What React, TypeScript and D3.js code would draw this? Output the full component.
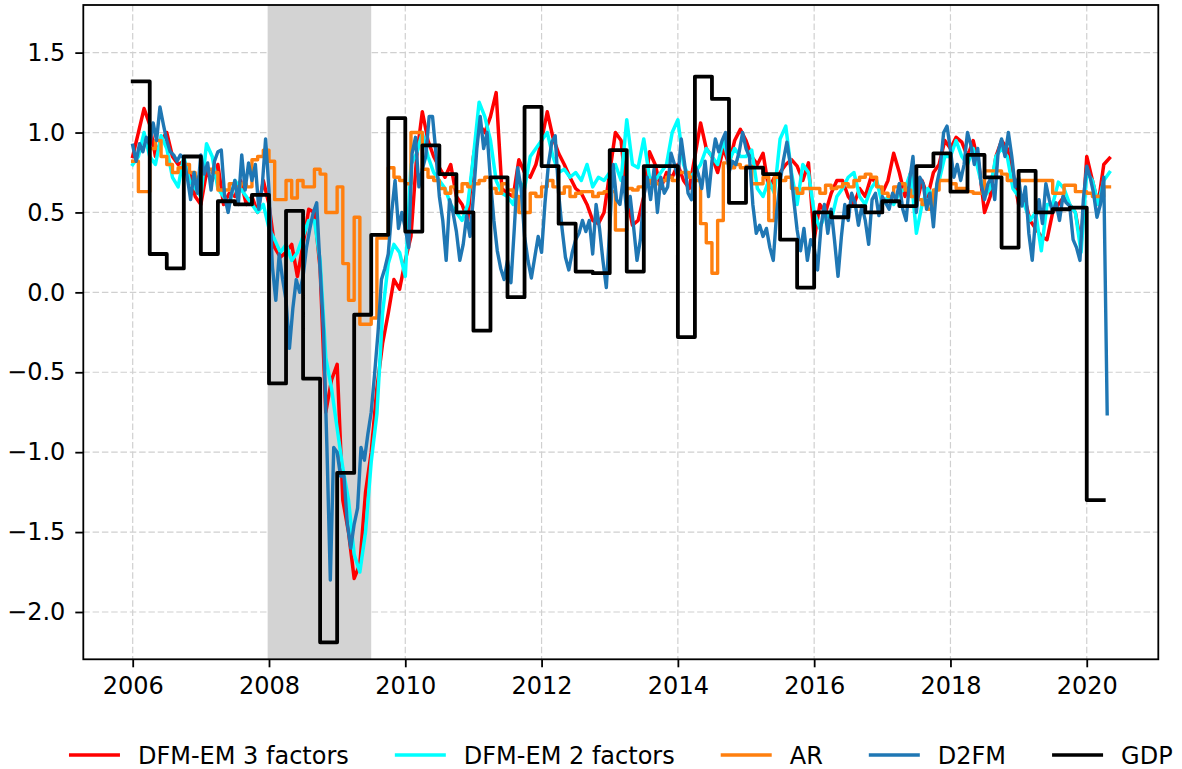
import React, { useEffect, useRef } from 'react'
import * as d3 from 'd3'

// D2FM nowcast, one value every 0.05 year starting 2006.0
const d2fmStart = 2006
const d2fmStep = 0.05
const d2fmValues = [
  0.92, 0.82, 0.93, 0.88, 0.97, 0.92, 1.06, 0.95, 1.16, 1.05,
  0.95, 0.88, 0.86, 0.82, 0.86, 0.84, 0.72, 0.58, 0.75, 0.62,
  0.86, 0.74, 0.81, 0.64, 0.82, 0.88, 0.89, 0.60, 0.50, 0.62,
  0.70, 0.55, 0.86, 0.64, 0.81, 0.70, 0.80, 0.52, 0.66, 0.96,
  0.64, 0.16, -0.05, 0.24, 0.08, -0.05, -0.35, -0.10, 0.08, 0.00,
  0.10, 0.28, 0.40, 0.50, 0.56, 0.15, -0.24, -0.97, -1.80, -0.97,
  -1.00, -1.15, -1.15, -1.45, -1.60, -1.45, -1.35, -0.97, -1.05, -0.89,
  -0.75, -0.51, -0.25, 0.08, 0.15, 0.24, 0.50, 0.70, 0.40, 0.50,
  0.40, 0.28, 0.87, 0.97, 0.66, 0.77, 0.85, 1.10, 1.10, 0.87,
  0.60, 0.45, 0.20, 0.58, 0.50, 0.38, 0.20, 0.30, 0.48, 0.35,
  0.60, 0.90, 1.10, 0.90, 1.00, 0.70, 0.45, 0.26, 0.15, 0.08,
  0.20, 0.06, 0.40, 0.78, 0.65, 0.35, 0.20, 0.09, 0.22, 0.35,
  0.25, 0.56, 0.80, 0.94, 0.98, 0.62, 0.40, 0.22, 0.14, 0.25,
  0.33, 0.37, 0.45, 0.38, 0.45, 0.24, 0.55, 0.40, 0.20, 0.03,
  0.40, 0.80, 0.58, 0.55, 0.72, 0.50, 0.60, 0.41, 0.20, 0.33,
  0.60, 0.72, 0.58, 0.77, 0.50, 0.72, 0.62, 0.66, 0.87, 0.80,
  0.72, 0.96, 0.80, 0.62, 0.58, 0.80, 0.74, 0.65, 0.82, 0.60,
  0.82, 0.96, 0.88, 0.95, 1.00, 0.75, 0.82, 0.80, 0.88, 1.00,
  0.90, 0.85, 0.55, 0.37, 0.42, 0.35, 0.40, 0.28, 0.20, 0.50,
  0.69, 0.83, 0.94, 0.80, 0.58, 0.39, 0.26, 0.40, 0.20, 0.33,
  0.28, 0.14, 0.41, 0.55, 0.37, 0.52, 0.32, 0.10, 0.35, 0.55,
  0.45, 0.62, 0.56, 0.42, 0.54, 0.45, 0.30, 0.58, 0.62, 0.48,
  0.60, 0.56, 0.52, 0.62, 0.58, 0.68, 0.52, 0.45, 0.70, 0.85,
  0.50, 0.72, 0.68, 0.52, 0.62, 0.41, 0.68, 0.78, 1.00, 1.04,
  0.89, 0.72, 0.80, 0.70, 0.80, 1.00, 0.92, 0.80, 0.90, 0.68,
  0.58, 0.68, 0.72, 0.58, 0.88, 0.96, 0.85, 1.00, 0.85, 0.66,
  0.72, 0.54, 0.66, 0.37, 0.20, 0.47, 0.58, 0.43, 0.68, 0.58,
  0.50, 0.56, 0.45, 0.60, 0.56, 0.54, 0.33, 0.28, 0.20, 0.58,
  0.79, 0.72, 0.62, 0.47, 0.55, 0.72, -0.76
]

// monthly series, starting January 2006
const monthlyStart = 2006
const dfm3Values = [
  0.85, 1.00, 1.15, 1.05, 0.85, 0.95, 1.00, 0.85, 0.80, 0.82, 0.75, 0.60,
  0.55, 0.75, 0.70, 0.80, 0.55, 0.62, 0.60, 0.70, 0.55, 0.60, 0.50, 0.70,
  0.55, 0.28, 0.22, 0.25, 0.30, 0.10, 0.30, 0.52, 0.50, 0.15, -0.75, -0.55,
  -0.45, -1.30, -1.50, -1.79, -1.70, -1.25, -1.00, -0.60, -0.32, -0.13, 0.08, 0.02,
  0.20, 0.35, 0.85, 1.13, 0.95, 0.85, 0.78, 0.72, 0.80, 0.60, 0.55, 0.45,
  0.85, 1.05, 1.00, 1.10, 1.25, 0.65, 0.62, 0.60, 0.83, 0.75, 0.72, 0.80,
  0.95, 1.13, 0.97, 0.87, 0.80, 0.72, 0.65, 0.62, 0.55, 0.45, 0.43, 0.50,
  0.75, 1.00, 0.95, 0.60, 0.42, 0.45, 0.60, 0.88, 0.80, 0.65, 0.75, 0.72,
  0.80, 0.70, 0.65, 0.85, 1.06, 0.90, 0.85, 0.75, 0.90, 0.80, 0.95, 1.02,
  0.95, 0.85, 0.80, 0.87, 0.65, 0.72, 0.75, 0.80, 0.83, 0.79, 0.70, 0.81,
  0.33, 0.55, 0.50, 0.62, 0.70, 0.70, 0.60, 0.55, 0.65, 0.60, 0.72, 0.68,
  0.62, 0.70, 0.87, 0.75, 0.60, 0.75, 0.55, 0.70, 0.60, 0.75, 0.80, 0.95,
  0.90, 0.97, 0.94, 0.85, 0.95, 0.80, 0.50, 0.60, 0.85, 0.95, 0.90, 0.75,
  0.55, 0.60, 0.45, 0.40, 0.35, 0.33, 0.50, 0.55, 0.60, 0.55, 0.50, 0.30,
  0.85, 0.70, 0.55, 0.80, 0.84
]
const dfm2Values = [
  0.80, 0.85, 1.00, 0.85, 0.80, 0.98, 0.90, 0.72, 0.66, 0.85, 0.70, 0.65,
  0.60, 0.93, 0.85, 0.65, 0.60, 0.55, 0.70, 0.65, 0.60, 0.55, 0.50, 0.55,
  0.40, 0.33, 0.25, 0.30, 0.20, 0.25, 0.35, 0.45, 0.45, 0.20, -0.41, -0.60,
  -0.85, -1.10, -1.30, -1.64, -1.75, -1.50, -1.06, -0.76, -0.13, 0.18, 0.30, 0.25,
  0.10, 0.80, 0.87, 1.00, 0.85, 0.75, 0.70, 0.65, 0.55, 0.50, 0.45, 0.55,
  0.85, 1.19, 1.10, 0.95, 0.70, 0.62, 0.60, 0.55, 0.70, 0.65, 0.85, 0.90,
  0.95, 1.00, 0.85, 0.75, 0.77, 0.72, 0.75, 0.70, 0.80, 0.66, 0.72, 0.70,
  0.75, 0.80, 0.70, 1.08, 0.80, 0.78, 0.96, 0.72, 0.70, 0.75, 0.80, 1.00,
  1.08, 0.80, 0.72, 0.75, 0.80, 0.90, 0.85, 0.80, 0.95, 0.82, 0.90, 0.85,
  0.85, 0.89, 0.65, 0.60, 0.70, 0.62, 0.96, 1.04, 0.75, 0.55, 0.80, 0.75,
  0.50, 0.40, 0.50, 0.45, 0.60, 0.65, 0.72, 0.75, 0.60, 0.55, 0.65, 0.70,
  0.55, 0.60, 0.55, 0.62, 0.65, 0.75, 0.37, 0.55, 0.65, 0.60, 0.70, 0.85,
  0.85, 0.95, 0.85, 0.80, 0.90, 0.75, 0.60, 0.65, 0.85, 0.90, 0.85, 0.65,
  0.60, 0.55, 0.45, 0.50, 0.26, 0.55, 0.55, 0.69, 0.65, 0.55, 0.50, 0.25,
  0.75, 0.70, 0.55, 0.70, 0.75
]
const arValues = [
  0.82, 0.63, 0.63, 0.90, 0.95, 0.85, 0.80, 0.75, 0.78, 0.80, 0.75, 0.72,
  0.77, 0.77, 0.75, 0.64, 0.64, 0.68, 0.66, 0.68, 0.66, 0.83, 0.85, 0.89,
  0.82, 0.58, 0.58, 0.70, 0.59, 0.70, 0.66, 0.66, 0.77, 0.74, 0.50, 0.50,
  0.66, 0.18, -0.05, 0.47, -0.20, -0.20, -0.16, 0.34, 0.34, 0.78, 0.72, 0.70,
  0.68, 1.00, 1.00, 0.77, 0.72, 0.70, 0.65, 0.62, 0.66, 0.63, 0.68, 0.66,
  0.68, 0.70, 0.72, 0.65, 0.62, 0.68, 0.64, 0.60, 0.50, 0.50, 0.62, 0.60,
  0.66, 0.70, 0.66, 0.62, 0.66, 0.60, 0.62, 0.63, 0.63, 0.60, 0.62, 0.63,
  0.63, 0.39, 0.39, 0.65, 0.64, 0.66, 0.68, 0.70, 0.68, 0.70, 0.72, 0.70,
  0.75, 0.75, 0.72, 0.70, 0.43, 0.31, 0.12, 0.45, 0.81, 0.78, 0.80, 0.78,
  0.79, 0.68, 0.68, 0.72, 0.45, 0.72, 0.70, 0.72, 0.65, 0.62, 0.65, 0.65,
  0.65, 0.62, 0.67, 0.65, 0.66, 0.68, 0.66, 0.70, 0.72, 0.74, 0.72, 0.66,
  0.62, 0.60, 0.66, 0.68, 0.64, 0.60, 0.58, 0.55, 0.52, 0.64, 0.70, 0.70,
  0.68, 0.65, 0.65, 0.63, 0.62, 0.62, 0.76, 0.76, 0.76, 0.74, 0.70, 0.70,
  0.70, 0.70, 0.70, 0.70, 0.70, 0.70, 0.62, 0.62, 0.67, 0.67, 0.63, 0.63,
  0.62, 0.60, 0.60, 0.66, 0.66
]

// quarterly GDP growth, 2006Q1 to 2020Q1
const gdpStart = 2006
const gdpValues = [
  1.32, 0.24, 0.15, 0.85,
  0.24, 0.57, 0.55, 0.61,
  -0.57, 0.51, -0.54, -2.19,
  -1.13, -0.14, 0.36, 1.09,
  0.38, 0.92, 0.74, 0.50,
  -0.24, 0.72, -0.03, 1.16,
  0.79, 0.43, 0.13, 0.12,
  0.89, 0.13, 0.79, 0.79,
  -0.28, 1.35, 1.21, 0.56,
  0.78, 0.74, 0.33, 0.03,
  0.50, 0.47, 0.54, 0.50,
  0.57, 0.54, 0.79, 0.87,
  0.63, 0.86, 0.72, 0.28,
  0.76, 0.50, 0.52, 0.53,
  -1.30
]

const recession = [2007.98, 2009.5]
const xTicks = [2006, 2008, 2010, 2012, 2014, 2016, 2018, 2020]
const yTicks = [-2.0, -1.5, -1.0, -0.5, 0.0, 0.5, 1.0, 1.5]
const seriesNames = ['DFM-EM 3 factors', 'DFM-EM 2 factors', 'AR', 'D2FM', 'GDP']
const seriesColors = ['#ff0000', '#00ffff', '#ff7f0e', '#1f77b4', '#000000']

type Pt = [number, number]

const App: React.FC = () => {
  const svgRef = useRef<SVGSVGElement>(null)

  useEffect(() => {
    if (!svgRef.current) return
    document.body.style.margin = '0'
    const svg = d3.select(svgRef.current)
    svg.selectAll('*').remove()

    const W = 1182
    const H = 769
    const left = 83.3, right = 1158.3, top = 5, bottom = 659.3
    const font = 'DejaVu Sans, sans-serif'
    const fs = 24

    const x = d3.scaleLinear().domain([2005.275, 2021.05]).range([left, right])
    const y = d3.scaleLinear().domain([-2.296, 1.798]).range([bottom, top])

    svg.attr('width', W).attr('height', H)
    svg.append('rect').attr('width', W).attr('height', H).attr('fill', '#fff')

    svg.append('defs').append('clipPath').attr('id', 'plot-clip')
      .append('rect')
      .attr('x', left).attr('y', top)
      .attr('width', right - left).attr('height', bottom - top)

    // grid
    const grid = svg.append('g')
    grid.selectAll('.gx').data(xTicks).enter().append('line')
      .attr('x1', d => x(d)).attr('x2', d => x(d))
      .attr('y1', top).attr('y2', bottom)
    grid.selectAll('.gy').data(yTicks).enter().append('line')
      .attr('x1', left).attr('x2', right)
      .attr('y1', d => y(d)).attr('y2', d => y(d))
    grid.selectAll('line')
      .attr('stroke', '#d0d0d0')
      .attr('stroke-width', 1.2)
      .attr('stroke-dasharray', '6.5,2.8')

    // recession shading
    svg.append('rect')
      .attr('x', x(recession[0]))
      .attr('width', x(recession[1]) - x(recession[0]))
      .attr('y', top).attr('height', bottom - top)
      .attr('fill', '#d3d3d3')

    const plot = svg.append('g').attr('clip-path', 'url(#plot-clip)')

    const lineLin = d3.line<Pt>().x(d => x(d[0])).y(d => y(d[1]))
    const lineStep = d3.line<Pt>().x(d => x(d[0])).y(d => y(d[1])).curve(d3.curveStepAfter)

    const monthly = (vals: number[]): Pt[] => vals.map((v, i) => [monthlyStart + i / 12, v])
    const d2fm: Pt[] = d2fmValues.map((v, i) => [d2fmStart + i * d2fmStep, v])
    const gdp: Pt[] = gdpValues.map((v, i) => [gdpStart + i / 4, v])
    // last quarter is held until its end
    gdp.push([gdpStart + gdpValues.length / 4, gdpValues[gdpValues.length - 1]])

    const draw = (pts: Pt[], gen: d3.Line<Pt>, color: string, w: number) => {
      plot.append('path')
        .attr('d', gen(pts))
        .attr('fill', 'none')
        .attr('stroke', color)
        .attr('stroke-width', w)
        .attr('stroke-linejoin', 'round')
        .attr('stroke-linecap', 'square')
    }

    draw(monthly(dfm3Values), lineLin, seriesColors[0], 3.5)
    draw(monthly(dfm2Values), lineLin, seriesColors[1], 3.5)
    draw(monthly(arValues), lineStep, seriesColors[2], 3.4)
    draw(d2fm, lineLin, seriesColors[3], 3.4)
    draw(gdp, lineStep, seriesColors[4], 3.8)

    // axes
    const xAxis = svg.append('g')
      .attr('transform', `translate(0,${bottom})`)
      .call(d3.axisBottom(x).tickValues(xTicks).tickFormat(d3.format('d')).tickSize(8).tickSizeOuter(0).tickPadding(10))
    const yAxis = svg.append('g')
      .attr('transform', `translate(${left},0)`)
      .call(d3.axisLeft(y).tickValues(yTicks).tickFormat(d3.format('.1f')).tickSize(8).tickSizeOuter(0).tickPadding(10))
    for (const ax of [xAxis, yAxis]) {
      ax.select('.domain').remove()
      ax.selectAll('.tick line').attr('stroke', '#000').attr('stroke-width', 1.8)
      ax.selectAll('.tick text')
        .attr('fill', '#000')
        .style('font-family', font)
        .style('font-size', `${fs}px`)
    }

    // frame
    svg.append('rect')
      .attr('x', left).attr('y', top)
      .attr('width', right - left).attr('height', bottom - top)
      .attr('fill', 'none')
      .attr('stroke', '#000')
      .attr('stroke-width', 1.8)

    // legend, centred under the axes
    const legend = svg.append('g')
    const handleLen = 51
    const textPad = 18
    const colGap = 46
    const legY = 755
    const items = seriesNames.map((name, i) => {
      const g = legend.append('g')
      g.append('line')
        .attr('x1', 0).attr('x2', handleLen)
        .attr('y1', legY).attr('y2', legY)
        .attr('stroke', seriesColors[i])
        .attr('stroke-width', 3.6)
      const t = g.append('text')
        .attr('x', handleLen + textPad)
        .attr('y', legY + 8.5)
        .style('font-family', font)
        .style('font-size', `${fs}px`)
        .attr('fill', '#000')
        .text(name)
      const tw = (t.node() as SVGTextElement).getComputedTextLength()
      return { g, w: handleLen + textPad + tw }
    })
    const total = d3.sum(items, d => d.w) + colGap * (items.length - 1)
    let cx = (left + right) / 2 - total / 2
    items.forEach(it => {
      it.g.attr('transform', `translate(${cx},0)`)
      cx += it.w + colGap
    })
  }, [])

  return (
    <div style={{ width: 1182, height: 769, background: '#fff' }}>
      <svg ref={svgRef} style={{ display: 'block' }}></svg>
    </div>
  )
}

export default App
